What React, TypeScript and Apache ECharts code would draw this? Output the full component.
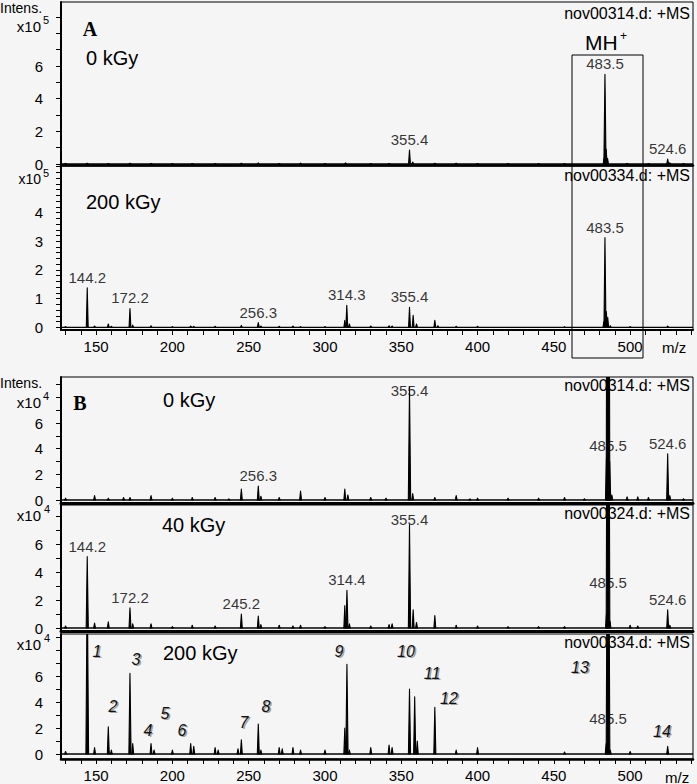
import React, { useEffect, useRef } from "react";
import * as echarts from "echarts";

// ---------- axis settings ----------
const X_MIN = 127;
const X_MAX = 541.2;
const X_TICK_LABELS = [150, 200, 250, 300, 350, 400, 450, 500];
const X_TICKS = [130, 140, 150, 160, 170, 180, 190, 200, 210, 220, 230, 240, 250, 260, 270, 280, 290, 300, 310, 320, 330, 340, 350, 360, 370, 380, 390, 400, 410, 420, 430, 440, 450, 460, 470, 480, 490, 500, 510, 520, 530, 540];

const Y_LABELS_A1 = [0, 2, 4, 6];
const Y_LABELS_A2 = [0, 1, 2, 3, 4];
const Y_LABELS_B = [0, 2, 4, 6];

// ---------- Panel A (x10^5) ----------
// 0 kGy, nov00314.d
const A1_PEAKS: [number, number][] = [
  [130, 0.04], [144.2, 0.05], [158, 0.03], [172.2, 0.05], [186, 0.04], [200, 0.03], [213, 0.03], [228, 0.03],
  [245.2, 0.05], [256.3, 0.07], [270, 0.03], [284, 0.06], [300, 0.03], [313.5, 0.07], [330, 0.03], [342, 0.04],
  [355.4, 0.85], [357.5, 0.12], [372, 0.05], [386, 0.05], [400, 0.03], [420, 0.03], [440, 0.03], [457, 0.03],
  [482.9, 0.35], [483.5, 5.5], [484.3, 0.9], [485.2, 0.35], [498, 0.04], [512, 0.03], [524.6, 0.3], [526, 0.08], [535, 0.03],
];
const A1_LABELS: [string, number, number][] = [["355.4", 355.4, 0.85], ["483.5", 483.5, 5.5], ["524.6", 524.6, 0.3]];

// 200 kGy, nov00334.d
const A2_PEAKS: [number, number][] = [
  [130, 0.03], [144.2, 1.38], [149, 0.05], [158, 0.12], [160, 0.04], [172.2, 0.66], [174, 0.08], [186, 0.06],
  [200, 0.03], [212, 0.05], [214, 0.04], [228, 0.04], [245.2, 0.07], [256.3, 0.17], [258, 0.05], [270, 0.04],
  [279, 0.05], [284, 0.03], [300, 0.03], [313, 0.25], [314.3, 0.77], [316, 0.12], [330, 0.05], [342, 0.06],
  [344, 0.05], [355.4, 0.7], [357.8, 0.42], [360, 0.12], [372, 0.25], [374, 0.06], [386, 0.04], [400, 0.04],
  [457, 0.02], [482.8, 0.2], [483.5, 3.13], [484.4, 0.55], [485.3, 0.35], [487, 0.06], [500, 0.03], [524.6, 0.05],
];
const A2_LABELS: [string, number, number][] = [
  ["144.2", 144.2, 1.38], ["172.2", 172.2, 0.66], ["256.3", 256.3, 0.17], ["314.3", 314.3, 0.77],
  ["355.4", 355.4, 0.7], ["483.5", 483.5, 3.13],
];

// ---------- Panel B (x10^4) ----------
// 0 kGy, nov00314.d
const B1_PEAKS: [number, number][] = [
  [130, 0.15], [149, 0.35], [158, 0.15], [168, 0.2], [172.2, 0.2], [186, 0.35], [200, 0.15], [213, 0.2],
  [228, 0.2], [237, 0.1], [245.2, 0.85], [256.3, 1.1], [258, 0.3], [270, 0.2], [284, 0.7], [300, 0.2],
  [313, 0.85], [315, 0.4], [330, 0.2], [340, 0.15], [355.4, 8.8], [357.5, 0.5], [372, 0.2], [386, 0.35],
  [395, 0.1], [400, 0.15], [420, 0.15], [440, 0.15], [457, 0.2], [470, 0.1], [484.5, 3.3], [485.5, 55],
  [486.6, 3.0], [488, 0.4], [498, 0.25], [505, 0.25], [512, 0.2], [524.6, 3.6], [526, 0.35], [535, 0.1],
];
const B1_LABELS: [string, number, number][] = [
  ["256.3", 256.3, 1.1], ["355.4", 355.4, 7.7], ["485.5", 485.5, 3.4], ["524.6", 524.6, 3.6],
];

// 40 kGy, nov00324.d
const B2_PEAKS: [number, number][] = [
  [130, 0.15], [144.2, 5.1], [149, 0.35], [158, 0.45], [172.2, 1.45], [174, 0.3], [186, 0.3], [200, 0.1],
  [213, 0.2], [228, 0.15], [245.2, 1.0], [256.3, 0.85], [258, 0.25], [270, 0.2], [279, 0.15], [284, 0.2],
  [300, 0.1], [313, 1.6], [314.4, 2.7], [316, 0.3], [330, 0.15], [342, 0.25], [344, 0.3], [355.4, 7.4],
  [357.8, 1.3], [360, 0.4], [372, 0.9], [386, 0.2], [400, 0.15], [420, 0.1], [440, 0.1], [457, 0.1],
  [484.5, 1.0], [485.5, 40], [486.8, 0.5], [500, 0.2], [505, 0.15], [524.6, 1.3], [526, 0.2],
];
const B2_LABELS: [string, number, number][] = [
  ["144.2", 144.2, 5.1], ["172.2", 172.2, 1.45], ["245.2", 245.2, 1.0], ["314.4", 314.4, 2.7],
  ["355.4", 355.4, 7.0], ["485.5", 485.5, 2.5], ["524.6", 524.6, 1.3],
];

// 200 kGy, nov00334.d
const B3_PEAKS: [number, number][] = [
  [130, 0.2], [144.2, 13.8], [149, 0.5], [158, 2.1], [160, 0.3], [172.2, 6.2], [174, 0.8], [186, 0.8],
  [188, 0.3], [200, 0.3], [212, 0.8], [214, 0.6], [228, 0.5], [230, 0.3], [243, 0.4], [245.2, 1.1],
  [256.3, 2.3], [258, 0.3], [270, 0.5], [272, 0.4], [279, 0.5], [284, 0.3], [300, 0.3], [313, 2.0],
  [314.4, 6.9], [316, 0.3], [330, 0.5], [342, 0.7], [344, 0.5], [355.4, 5.0], [358.8, 4.4], [360.5, 1.0],
  [372, 3.6], [386, 0.3], [400, 0.5], [457, 0.15], [484.3, 0.8], [485.5, 31.3], [487, 0.3], [500, 0.2], [524.6, 0.6],
];
const B3_LABELS: [string, number, number][] = [["485.5", 485.5, 1.9]];

// numbered peak annotations (200 kGy)
const PEAK_NUMBERS = ["1", "2", "3", "4", "5", "6", "7", "8", "9", "10", "11", "12", "13", "14"];
const PEAK_NUMBER_POS: [number, number][] = [
  [97, 651], [113, 706], [136, 659], [148, 730], [165, 713], [182, 730], [244, 722],
  [266, 706], [339, 651], [406, 651], [432, 673], [449, 698], [580, 667], [662, 731],
];

const FONT = "'Liberation Sans', Arial, Helvetica, sans-serif";
const SERIF = "'Liberation Serif', 'Times New Roman', serif";

type PanelDef = {
  top: number;
  height: number;
  yMin: number;
  yMax: number;
  yLabels: number[];
  yTicks: number[];
  peaks: [number, number][];
  labels: [string, number, number][];
  showX: boolean;
  axisW: number;
};

const range = (a: number, b: number, s: number) => {
  const out: number[] = [];
  for (let v = a; v <= b + 1e-9; v += s) out.push(Math.round(v * 100) / 100);
  return out;
};

const PANELS: PanelDef[] = [
  { top: 2, height: 163, yMin: -0.06, yMax: 9.92, yLabels: Y_LABELS_A1, yTicks: range(0, 9, 1), peaks: A1_PEAKS, labels: A1_LABELS, showX: false, axisW: 2.5 },
  { top: 166, height: 164, yMin: -0.09, yMax: 5.62, yLabels: Y_LABELS_A2, yTicks: range(0, 5.6, 0.2), peaks: A2_PEAKS, labels: A2_LABELS, showX: true, axisW: 2 },
  { top: 377, height: 126, yMin: -0.23, yMax: 9.59, yLabels: Y_LABELS_B, yTicks: range(0, 9, 1), peaks: B1_PEAKS, labels: B1_LABELS, showX: false, axisW: 3 },
  { top: 505, height: 126, yMin: -0.21, yMax: 8.79, yLabels: Y_LABELS_B, yTicks: range(0, 8, 1), peaks: B2_PEAKS, labels: B2_LABELS, showX: false, axisW: 3 },
  { top: 634, height: 125, yMin: -0.38, yMax: 9.23, yLabels: Y_LABELS_B, yTicks: range(0, 9, 1), peaks: B3_PEAKS, labels: B3_LABELS, showX: true, axisW: 2.5 },
];

const makeRender = (yMax: number) => (_params: any, api: any) => {
  const mz = api.value(0);
  const h = api.value(1);
  const w = 0.6 + 0.02 * Math.min(h, 30);
  let pts: number[][];
  if (h > yMax) {
    const f = 1 - yMax / h;
    pts = [[mz - w, 0], [mz - w * f, yMax], [mz + w * f, yMax], [mz + w, 0]];
  } else {
    pts = [[mz - w, 0], [mz, h], [mz + w, 0]];
  }
  return {
    type: "polygon",
    shape: { points: pts.map((p) => api.coord(p)) },
    style: { fill: "#000", stroke: "#000", lineWidth: 1.1, lineJoin: "round" },
  };
};

const txt = (text: string, x: number, y: number, font: string, align = "left", vAlign = "middle", fill = "#000") => ({
  type: "text",
  x,
  y,
  z: 10,
  style: { text, font, fill, textAlign: align, textVerticalAlign: vAlign },
});

export default function App() {
  const ref = useRef<HTMLDivElement>(null);
  useEffect(() => {
    if (!ref.current) return;
    const chart = echarts.init(ref.current, undefined, { renderer: "svg" });

    const grid = PANELS.map((p) => ({
      left: 61,
      width: 632,
      top: p.top,
      height: p.height,
      show: true,
      borderColor: "#000",
      borderWidth: 1,
      backgroundColor: "transparent",
    }));

    const xAxis = PANELS.map((p, i) => ({
      gridIndex: i,
      type: "value",
      min: X_MIN,
      max: X_MAX,
      axisLine: { show: true, onZero: false, lineStyle: { color: "#000", width: p.axisW } },
      splitLine: { show: false },
      axisTick: { show: p.showX, customValues: X_TICKS, length: 5, lineStyle: { color: "#000", width: 1 } },
      axisLabel: { show: p.showX, customValues: X_TICK_LABELS, color: "#000", fontSize: 15, fontFamily: FONT, margin: 9 },
    }));

    const yAxis = PANELS.map((p, i) => ({
      gridIndex: i,
      type: "value",
      min: p.yMin,
      max: p.yMax,
      axisLine: { show: true, onZero: false, lineStyle: { color: "#000", width: 2 } },
      splitLine: { show: false },
      axisTick: { show: true, customValues: p.yTicks, length: 5, lineStyle: { color: "#000", width: 1 } },
      axisLabel: { show: true, customValues: p.yLabels, color: "#000", fontSize: 15, fontFamily: FONT, margin: 18 },
    }));

    const series: any[] = [];
    PANELS.forEach((p, i) => {
      series.push({
        type: "line",
        xAxisIndex: i,
        yAxisIndex: i,
        data: [[X_MIN, 0], [X_MAX, 0]],
        symbol: "none",
        lineStyle: { color: "#000", width: 1.4 },
        z: 2,
        silent: true,
      });
      series.push({
        type: "custom",
        xAxisIndex: i,
        yAxisIndex: i,
        data: p.peaks,
        encode: { x: 0, y: 1 },
        renderItem: makeRender(p.yMax),
        clip: true,
        z: 3,
        silent: true,
      });
      series.push({
        type: "scatter",
        xAxisIndex: i,
        yAxisIndex: i,
        data: p.labels.map(([t, mz, lv]) => ({ name: t, value: [mz, lv] })),
        symbolSize: 0,
        z: 4,
        silent: true,
        label: {
          show: true,
          position: "top",
          distance: 3,
          formatter: "{b}",
          color: "#000",
          fontSize: 15,
          fontFamily: FONT,
        },
      });
    });

    const f14 = `14px ${FONT}`;
    const f15 = `15px ${FONT}`;
    const f16 = `16px ${FONT}`;
    const f20 = `20px ${FONT}`;
    const sup = `11px ${FONT}`;

    const graphics: any[] = [
      // Panel A
      txt("Intens.", 0, 8, f14),
      txt("x10", 41, 26, f15, "right"),
      txt("5", 43, 20, sup),
      txt("x10", 41, 179, f14, "right"),
      txt("5", 43, 173, sup),
      txt("A", 90, 29, `bold 20px ${SERIF}`, "center"),
      txt("0 kGy", 86, 58, f20),
      txt("200 kGy", 86, 202, f20),
      txt("nov00314.d: +MS", 690, 13, f16, "right"),
      txt("nov00334.d: +MS", 690, 175, f16, "right"),
      txt("MH", 585, 42, `21px ${FONT}`),
      txt("+", 620, 36, `12px ${FONT}`),
      txt("m/z", 662, 347, f15),
      {
        type: "rect",
        z: 10,
        shape: { x: 572, y: 55, width: 71, height: 303 },
        style: { fill: "none", stroke: "#000", lineWidth: 1 },
      },
      // Panel B
      txt("Intens.", 0, 383, f14),
      txt("x10", 41, 402, f15, "right"),
      txt("4", 43, 396, sup),
      txt("x10", 41, 515, f15, "right"),
      txt("4", 44, 509, sup),
      txt("x10", 41, 644, f15, "right"),
      txt("4", 44, 638, sup),
      txt("B", 80, 403, `bold 20px ${SERIF}`, "center"),
      txt("0 kGy", 163, 400, f20),
      txt("40 kGy", 162, 525, f20),
      txt("200 kGy", 163, 653, f20),
      txt("nov00314.d: +MS", 690, 385, f16, "right"),
      txt("nov00324.d: +MS", 690, 513, f16, "right"),
      txt("nov00334.d: +MS", 690, 642, f16, "right"),
      txt("m/z", 665, 777, f15),
    ];
    PEAK_NUMBERS.forEach((n, k) => {
      const [x, y] = PEAK_NUMBER_POS[k];
      graphics.push(txt(n, x + 1.5, y + 1.5, `italic 16px ${FONT}`, "center", "middle", "#a0a0a0"));
      graphics.push(txt(n, x, y, `italic 16px ${FONT}`, "center", "middle", "#111"));
    });

    chart.setOption({
      animation: false,
      backgroundColor: "transparent",
      grid,
      xAxis,
      yAxis,
      series,
      graphic: { elements: graphics },
    });
    return () => chart.dispose();
  }, []);

  return (
    <div style={{ position: "absolute", left: 0, top: 0, width: 697, height: 784, background: "#f5f5f5" }}>
      <div ref={ref} style={{ width: 697, height: 784 }} />
    </div>
  );
}
